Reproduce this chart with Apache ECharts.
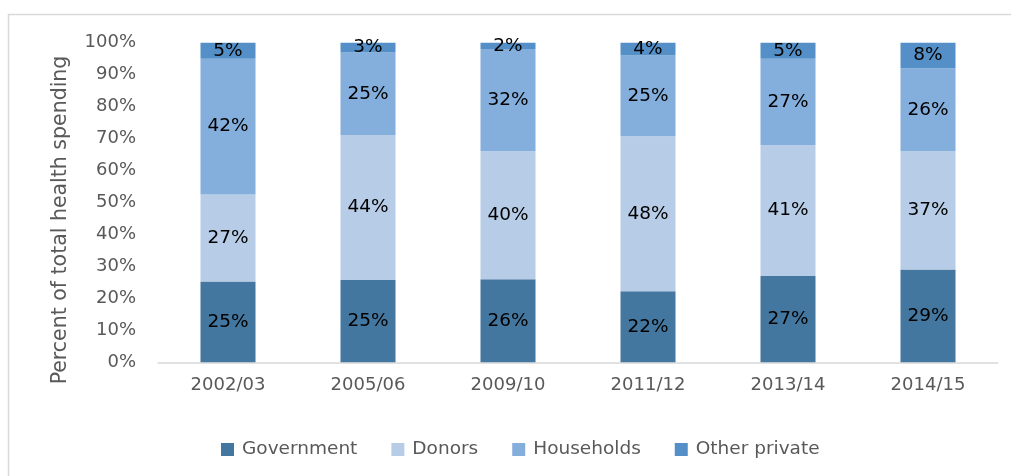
<!DOCTYPE html>
<html>
<head>
<meta charset="utf-8">
<script src="https://cdn.jsdelivr.net/npm/echarts@6/dist/echarts.min.js"></script>
<style>
  html, body { margin: 0; padding: 0; background: #fff; }
  #chart { width: 1011px; height: 476px; }
</style>
</head>
<body>
<div id="chart"></div>
<script>
// Survey years
const years = ['2002/03', '2005/06', '2009/10', '2011/12', '2013/14', '2014/15'];

// Share of total health spending by source (%)
const government   = [25, 25, 26, 22, 27, 29];
const donors       = [27, 44, 40, 48, 41, 37];
const households   = [42, 25, 32, 25, 27, 26];
const otherPrivate = [5, 3, 2, 4, 5, 8];

const yTicks = [0, 10, 20, 30, 40, 50, 60, 70, 80, 90, 100];

const seriesDefs = [
  { name: 'Government',    data: government,   color: '#44779f' },
  { name: 'Donors',        data: donors,       color: '#b7cce7' },
  { name: 'Households',    data: households,   color: '#84aedc' },
  { name: 'Other private', data: otherPrivate, color: '#5490c7' }
];

// Each column is stacked to 100% of its own total
const totals = years.map((_, i) => seriesDefs.reduce((s, d) => s + d.data[i], 0));

const FONT = '"DejaVu Sans", sans-serif';

const chart = echarts.init(document.getElementById('chart'), null, { renderer: 'canvas' });

chart.setOption({
  animation: false,
  backgroundColor: '#ffffff',
  textStyle: { fontFamily: FONT },
  grid: { left: 158, right: 13, top: 42.7, bottom: 113.7, containLabel: false },
  legend: {
    top: 440,
    left: 221,
    padding: 0,
    itemWidth: 13,
    itemHeight: 13,
    itemGap: 34,
    icon: 'rect',
    textStyle: { fontFamily: FONT, fontSize: 18.5, color: '#595959', padding: [0, 0, 0, 3] },
    data: seriesDefs.map(d => d.name)
  },
  xAxis: {
    type: 'category',
    data: years,
    axisLine: { show: true, lineStyle: { color: '#d9d9d9', width: 1.5 } },
    axisTick: { show: false },
    axisLabel: { color: '#595959', fontSize: 18, fontFamily: FONT, margin: 14 },
    splitLine: { show: false }
  },
  yAxis: {
    type: 'value',
    min: 0,
    max: 100,
    interval: 10,
    axisLine: { show: false },
    axisTick: { show: false },
    splitLine: { show: false },
    axisLabel: {
      color: '#595959', fontSize: 18, fontFamily: FONT, margin: 22,
      padding: [3, 0, 0, 0],
      formatter: v => (yTicks.includes(v) ? v + '%' : '')
    }
  },
  graphic: [
    {
      type: 'rect',
      shape: { x: 8.5, y: 14.5, width: 1020, height: 480 },
      style: { fill: 'none', stroke: '#d9d9d9', lineWidth: 1.5 },
      silent: true
    },
    {
      type: 'text',
      x: 61,
      y: 220,
      rotation: Math.PI / 2,
      style: {
        text: 'Percent of total health spending',
        fontFamily: FONT,
        fontSize: 20.5,
        fill: '#595959',
        align: 'center',
        verticalAlign: 'middle'
      },
      silent: true
    }
  ],
  series: seriesDefs.map(d => ({
    name: d.name,
    type: 'bar',
    stack: 'total',
    barWidth: 55,
    itemStyle: { color: d.color },
    label: {
      show: true,
      position: 'inside',
      color: '#000000',
      fontFamily: FONT,
      fontSize: 18.5,
      formatter: p => d.data[p.dataIndex] + '%'
    },
    data: d.data.map((v, i) => v / totals[i] * 100)
  }))
});
</script>
</body>
</html>
